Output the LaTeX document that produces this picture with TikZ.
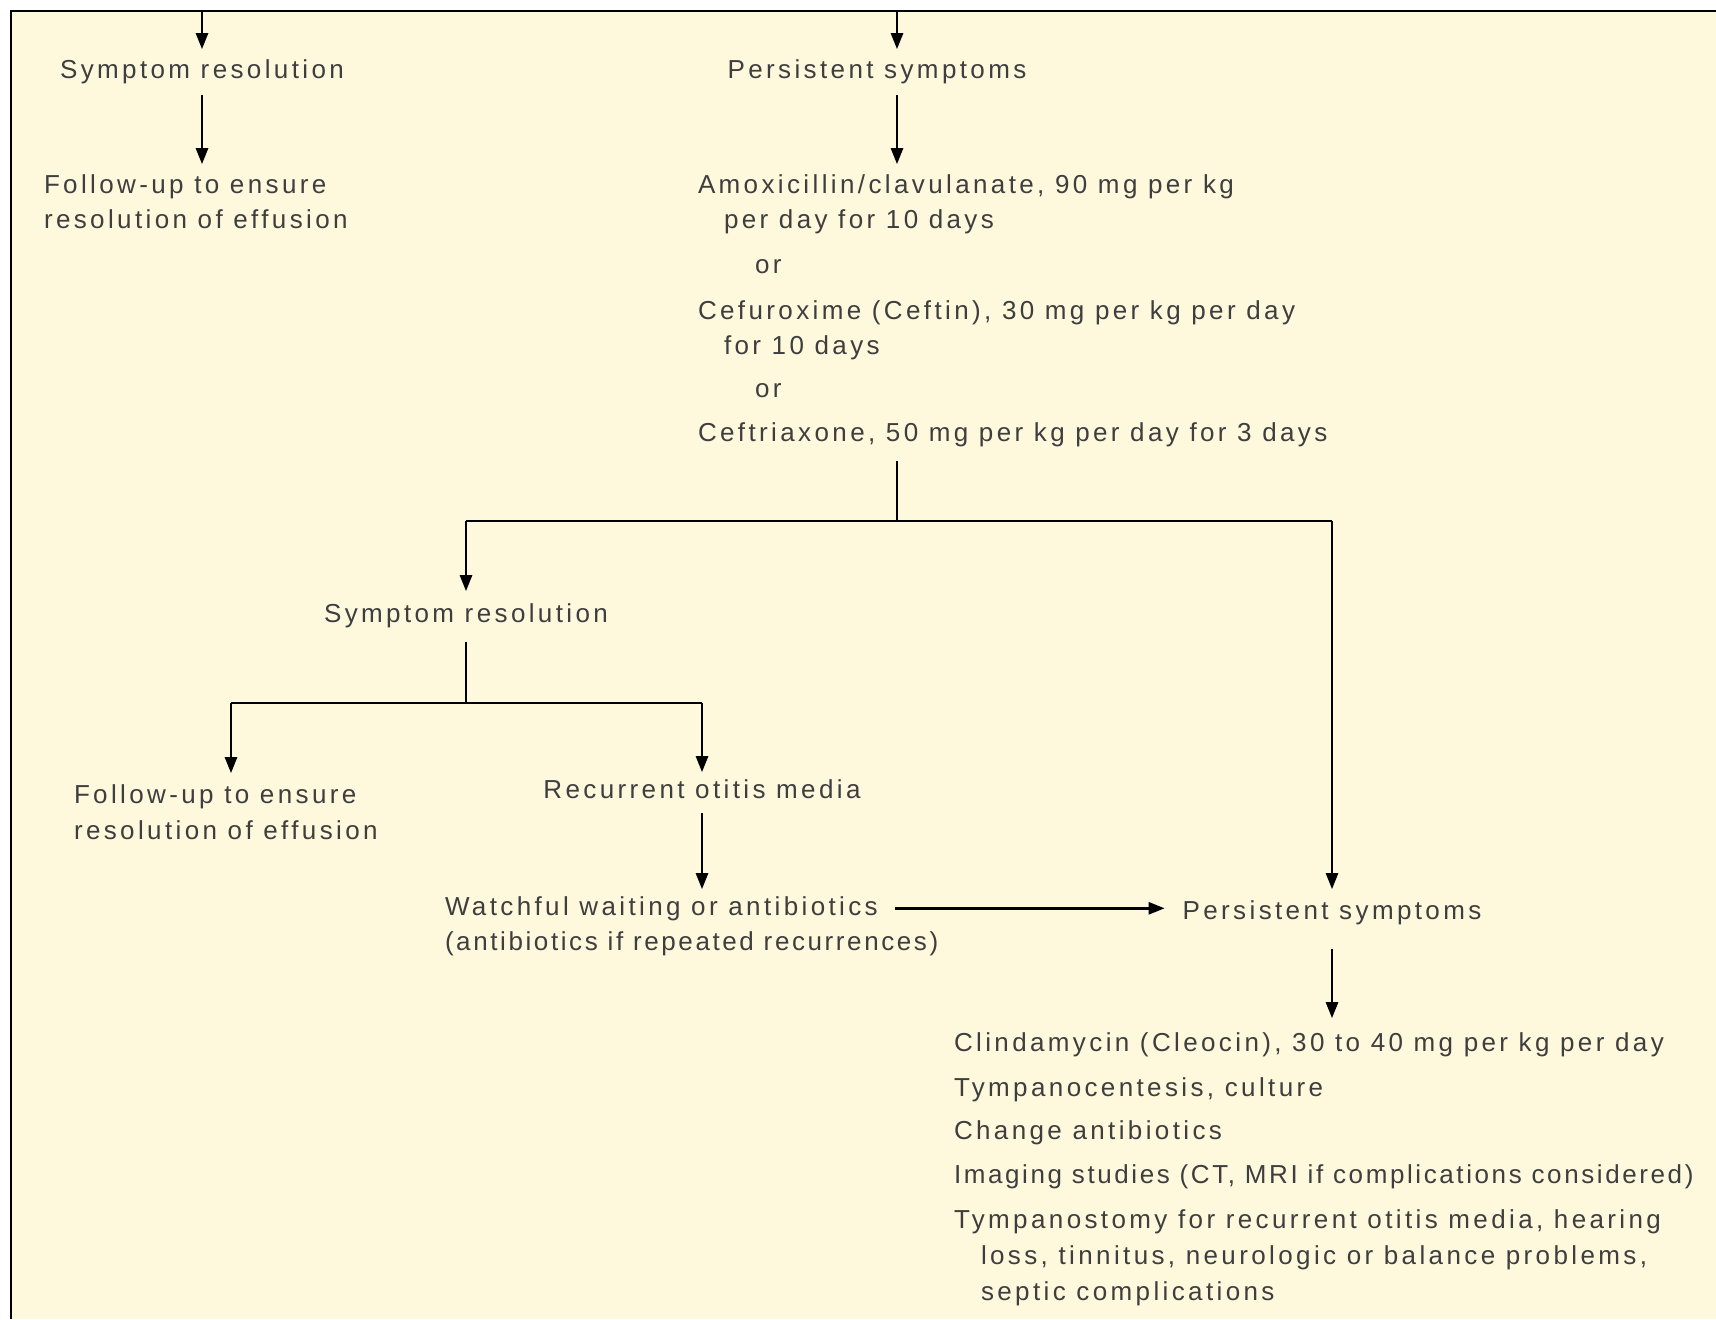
\documentclass[tikz,border=0pt]{standalone}
\usepackage{fontspec}
\setmainfont{Liberation Sans}[LetterSpace=13]
\usetikzlibrary{arrows.meta}
\definecolor{cream}{RGB}{254,248,221}
\definecolor{txt}{RGB}{62,62,62}
\begin{document}
\begin{tikzpicture}[x=0.5pt,y=-0.5pt,
  lbl/.style={inner sep=0pt, outer sep=0pt, text=txt, font=\fontsize{13pt}{15pt}\selectfont, anchor=base west},
  lblc/.style={lbl, anchor=base},
  conn/.style={line width=1.3pt, black},
  arr/.style={conn, -{Triangle[length=8pt,width=6pt]}}]
\useasboundingbox (0,0) rectangle (1716,1319);
\fill[white] (0,0) rectangle (1716,1319);
\fill[cream] (11,11) rectangle (1716,1319);
\draw[line width=1.2pt] (11,1319) -- (11,11) -- (1716,11);

% top left column
\node[lblc] (sr1) at (202,78) {Symptom resolution};
\node[lbl] (fu1a) at (44,193) {Follow-up to ensure};
\node[lbl] (fu1b) at (44,228) {resolution of effusion};

% top middle column
\node[lblc] (ps1) at (877,78) {Persistent symptoms};
\node[lbl] (amox1) at (698,193) {Amoxicillin/clavulanate, 90 mg per kg};
\node[lbl] (amox2) at (724,228) {per day for 10 days};
\node[lbl] (or1) at (755,273) {or};
\node[lbl] (cef1) at (698,319) {Cefuroxime (Ceftin), 30 mg per kg per day};
\node[lbl] (cef2) at (724,354) {for 10 days};
\node[lbl] (or2) at (755,397) {or};
\node[lbl] (cef3) at (698,441) {Ceftriaxone, 50 mg per kg per day for 3 days};

% second level
\node[lblc] (sr2) at (466,622) {Symptom resolution};
\node[lbl] (fu2a) at (74,803) {Follow-up to ensure};
\node[lbl] (fu2b) at (74,839) {resolution of effusion};
\node[lblc] (rec) at (702,798) {Recurrent otitis media};
\node[lbl] (ww1) at (445,915) {Watchful waiting or antibiotics};
\node[lbl] (ww2) at (445,950) {\addfontfeature{LetterSpace=10}(antibiotics if repeated recurrences)};
\node[lblc] (ps2) at (1332,919) {Persistent symptoms};

% final block
\node[lbl] (cl1) at (954,1051) {Clindamycin (Cleocin), 30 to 40 mg per kg per day};
\node[lbl] (cl2) at (954,1096) {Tympanocentesis, culture};
\node[lbl] (cl3) at (954,1139) {Change antibiotics};
\node[lbl] (cl4) at (954,1183) {\addfontfeature{LetterSpace=10}Imaging studies (CT, MRI if complications considered)};
\node[lbl] (cl5) at (954,1228) {Tympanostomy for recurrent otitis media, hearing};
\node[lbl] (cl6) at (981,1264) {loss, tinnitus, neurologic or balance problems,};
\node[lbl] (cl7) at (981,1300) {septic complications};

% coordinates
\coordinate (t1) at (202,11);
\coordinate (t2) at (897,11);
\coordinate (j1) at (897,521);
\coordinate (jl) at (466,521);
\coordinate (jr) at (1332,521);
\coordinate (j2) at (466,703);
\coordinate (j2l) at (231,703);
\coordinate (j2r) at (702,703);

% connectors
\draw[arr, shorten >=5pt] (t1) -- (t1 |- sr1.north);
\draw[arr, shorten <=6pt, shorten >=5pt] (sr1.south) -- (sr1.south |- fu1a.north);
\draw[arr, shorten >=5pt] (t2) -- (t2 |- ps1.north);
\draw[arr, shorten <=6pt, shorten >=5pt] (t2 |- ps1.south) -- (t2 |- amox1.north);
\draw[conn, shorten <=7.5pt] (j1 |- cef3.south) -- (j1);
\draw[conn] (jl) -- (jr);
\draw[arr, shorten >=6pt] (jl) -- (jl |- sr2.north);
\draw[conn, shorten <=7.5pt] (sr2.south) -- (j2);
\draw[conn] (j2l) -- (j2r);
\draw[arr, shorten >=5.5pt] (j2l) -- (j2l |- fu2a.north);
\draw[arr, shorten >=3.5pt] (j2r) -- (rec.north);
\draw[arr, shorten <=7.5pt, shorten >=3.5pt] (rec.south) -- (rec.south |- ww1.north);
\draw[arr, shorten <=8.5pt, shorten >=9pt] (ww1.east) -- (ww1.east -| ps2.west);
\draw[arr, shorten >=5.5pt] (jr) -- (ps2.north);
\draw[arr, shorten <=12.5pt, shorten >=7pt] (ps2.south) -- (ps2.south |- cl1.north);
\end{tikzpicture}
\end{document}
